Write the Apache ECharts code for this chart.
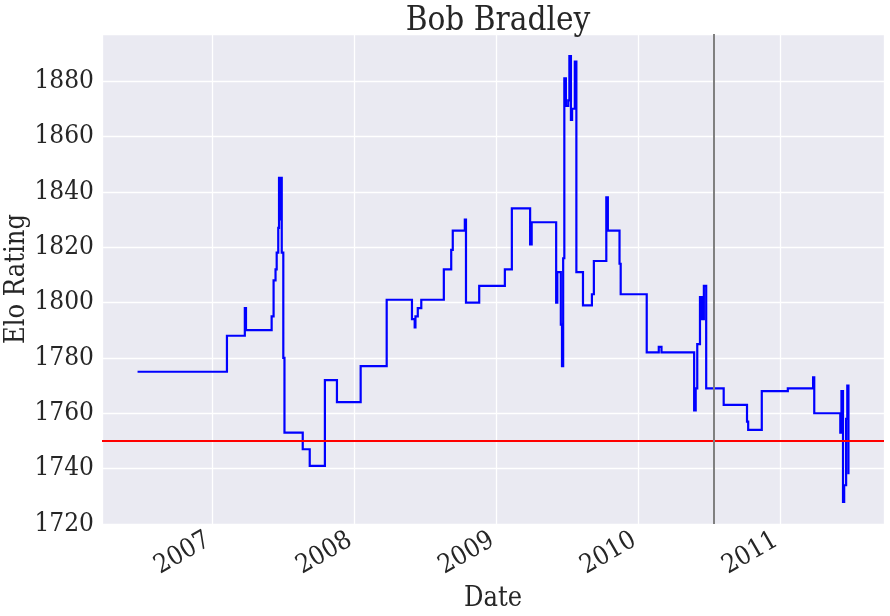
<!DOCTYPE html>
<html>
<head>
<meta charset="utf-8">
<script src="https://cdn.jsdelivr.net/npm/echarts@6/dist/echarts.min.js"></script>
<style>
html,body{margin:0;padding:0;background:#fff;}
#c{width:890px;height:616px;}
</style>
</head>
<body>
<div id="c"></div>
<script>
var matchDates = [
'2006-06-22','2007-02-07','2007-03-25','2007-03-28','2007-06-02','2007-06-07','2007-06-12','2007-06-15',
'2007-06-19','2007-06-21','2007-06-23','2007-06-24','2007-06-28','2007-07-02','2007-07-05','2007-08-21',
'2007-09-08','2007-10-17','2007-11-17','2008-01-17','2008-03-24','2008-05-28','2008-06-04','2008-06-06',
'2008-06-12','2008-06-21','2008-08-18','2008-09-06','2008-09-10','2008-10-11','2008-10-14','2008-11-17',
'2009-01-22','2009-02-09','2009-03-28','2009-04-01','2009-06-03','2009-06-06','2009-06-15','2009-06-18',
'2009-06-21','2009-06-24','2009-06-28','2009-07-04','2009-07-07','2009-07-11','2009-07-14','2009-07-21',
'2009-07-25','2009-08-11','2009-09-03','2009-09-08','2009-10-10','2009-10-14','2009-11-13','2009-11-16',
'2010-01-22','2010-02-22','2010-03-01','2010-05-24','2010-05-28','2010-06-01','2010-06-08','2010-06-11',
'2010-06-14','2010-06-16','2010-06-18','2010-06-24','2010-08-08','2010-10-07','2010-10-10','2010-11-14',
'2011-01-20','2011-03-26','2011-03-29','2011-06-04','2011-06-07','2011-06-11','2011-06-14','2011-06-19',
'2011-06-22','2011-06-25'
];
var eloValues = [
1775,1788,1798,1790,1795,1808,1812,1818,
1827,1845,1830,1845,1818,1780,1753,1747,
1741,1772,1764,1777,1801,1794,1791,1795,
1798,1801,1812,1819,1826,1830,1800,1806,
1812,1834,1821,1829,1800,1811,1792,1777,
1816,1881,1871,1873,1889,1866,1870,1887,
1811,1799,1803,1815,1838,1826,1814,1803,
1782,1784,1782,1761,1769,1785,1802,1794,
1802,1794,1806,1769,1763,1757,1754,1768,
1769,1773,1760,1753,1768,1728,1734,1758,
1770,1738
];
var baselineElo = 1750;
var markerDate = '2010-07-14';
var yTicks = [1720,1740,1760,1780,1800,1820,1840,1860,1880];
var yearTicks = ['2007','2008','2009','2010','2011'];

var FONT = '"DejaVu Serif Condensed", "DejaVu Serif", serif';
function ts(d){ return new Date(d).getTime(); }
// step-post path: hold each rating until the next match date
var stepCoords = [];
for (var i = 0; i < matchDates.length; i++) {
  if (i > 0) stepCoords.push([ts(matchDates[i]), eloValues[i-1]]);
  stepCoords.push([ts(matchDates[i]), eloValues[i]]);
}
var t0 = ts(matchDates[0]);
var t1 = ts(matchDates[matchDates.length-1]);
var pad = (t1 - t0) * 0.05;
var YEAR = 365.25*24*3600*1000;

var chart = echarts.init(document.getElementById('c'), null, {renderer:'canvas'});
chart.setOption({
  animation: false,
  backgroundColor: '#ffffff',
  title: {
    text: 'Bob Bradley',
    left: 493, top: 0, textAlign: 'center',
    textStyle: {fontFamily: FONT, fontSize: 33, fontWeight: 'normal', color: '#262626'}
  },
  grid: {
    left: 102, right: 6, top: 34, bottom: 92,
    containLabel: false, outerBoundsMode: 'none',
    show: true, backgroundColor: '#EAEAF2', borderWidth: 0
  },
  xAxis: {
    type: 'time',
    min: t0 - pad, max: t1 + pad,
    minInterval: YEAR, maxInterval: YEAR,
    name: 'Date', nameLocation: 'middle', nameGap: 61,
    nameTextStyle: {fontFamily: FONT, fontSize: 27, color: '#262626'},
    axisLine: {show: false}, axisTick: {show: false},
    axisLabel: {
      rotate: 30, fontFamily: FONT, fontSize: 26, color: '#262626', margin: 12,
      padding: [0, 5, 0, 0],
      showMinLabel: false, showMaxLabel: false,
      formatter: function(v){ var dt = new Date(v); var y = dt.getFullYear(); return (dt.getMonth()===0 && dt.getDate()===1 && yearTicks.indexOf(String(y))>=0) ? String(y) : ''; }
    },
    splitLine: {show: true, lineStyle: {color: '#ffffff', width: 1.3}}
  },
  yAxis: {
    type: 'value', min: 1720, max: 1897, interval: 20,
    name: 'Elo Rating', nameLocation: 'middle', nameGap: 72, nameMoveOverlap: false,
    nameTextStyle: {fontFamily: FONT, fontSize: 27, color: '#262626'},
    axisLine: {show: false}, axisTick: {show: false},
    axisLabel: {
      fontFamily: FONT, fontSize: 26, color: '#262626', margin: 8, showMaxLabel: false,
      formatter: function(v){ return yTicks.indexOf(v) >= 0 ? String(v) : ''; }
    },
    splitLine: {show: true, lineStyle: {color: '#ffffff', width: 1.3}}
  },
  series: [
    {
      type: 'lines', coordinateSystem: 'cartesian2d', polyline: true, z: 2,
      silent: true,
      lineStyle: {color: '#0000ff', width: 2.2, opacity: 1, cap: 'butt', join: 'miter'},
      data: [{coords: stepCoords}]
    },
    {
      type: 'line', data: [], z: 5,
      markLine: {
        silent: true, symbol: ['none','none'], animation: false,
        label: {show: false},
        data: [
          {yAxis: baselineElo, lineStyle: {color: '#ff0000', width: 2, type: 'solid'}},
          {xAxis: markerDate, lineStyle: {color: '#808080', width: 2, type: 'solid'}}
        ]
      }
    }
  ]
});
</script>
</body>
</html>
